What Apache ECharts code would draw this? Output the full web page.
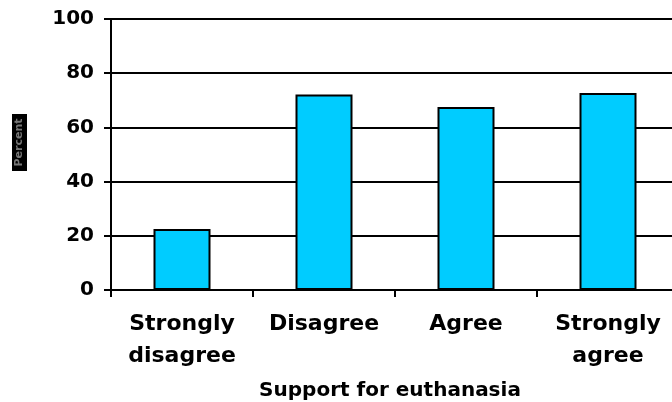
<!DOCTYPE html>
<html><head><meta charset="utf-8">
<script src="https://cdn.jsdelivr.net/npm/echarts@6/dist/echarts.min.js"></script>
<style>html,body{margin:0;padding:0;background:#fff}#c{width:672px;height:402px}</style>
</head><body><div id="c"></div>
<script>
var categories = ['Strongly\ndisagree', 'Disagree', 'Agree', 'Strongly\nagree'];
var values = [22.5, 72.1, 67.5, 72.7];
var yTicks = [0, 20, 40, 60, 80, 100];
var xTitle = 'Support for euthanasia';
var yTitle = 'Percent';

var chart = echarts.init(document.getElementById('c'));
var font = 'DejaVu Sans, sans-serif';
chart.setOption({
  animation: false,
  grid: {left: 111, width: 568, top: 19, height: 271, containLabel: false, outerBoundsMode: 'none'},
  xAxis: {
    type: 'category', data: categories,
    name: xTitle, nameLocation: 'middle', nameGap: 91,
    nameTextStyle: {fontFamily: font, fontWeight: 'bold', fontSize: 20, color: '#000', padding: [0, 10, 0, 0]},
    axisLine: {lineStyle: {color: '#000', width: 2}},
    axisTick: {show: true, interval: 0, length: 7, lineStyle: {color: '#000', width: 2}},
    axisLabel: {interval: 0, hideOverlap: false, fontFamily: font, fontWeight: 'bold', fontSize: 22, color: '#000', margin: 18, lineHeight: 32}
  },
  yAxis: {
    type: 'value', min: 0, max: 100, interval: 20,
    axisLine: {show: true, lineStyle: {color: '#000', width: 2}},
    axisTick: {show: true, length: 7, lineStyle: {color: '#000', width: 2}},
    splitLine: {lineStyle: {color: '#000', width: 2}},
    axisLabel: {fontFamily: font, fontWeight: 'bold', fontSize: 20, color: '#000', margin: 17,
      formatter: function (v) { return yTicks.indexOf(v) >= 0 ? String(v) : ''; }}
  },
  series: [{
    type: 'bar', data: values, barWidth: 57,
    itemStyle: {color: '#00CCFF', borderColor: '#000', borderWidth: 2}
  }],
  graphic: [
    {type: 'rect', shape: {x: 12, y: 114, width: 15, height: 57}, style: {fill: '#000'}},
    {type: 'text', x: 19.5, y: 142.5, rotation: Math.PI / 2,
     style: {text: yTitle, fill: '#777', font: 'bold 11px ' + font, align: 'center', verticalAlign: 'middle'}}
  ]
});
</script></body></html>
